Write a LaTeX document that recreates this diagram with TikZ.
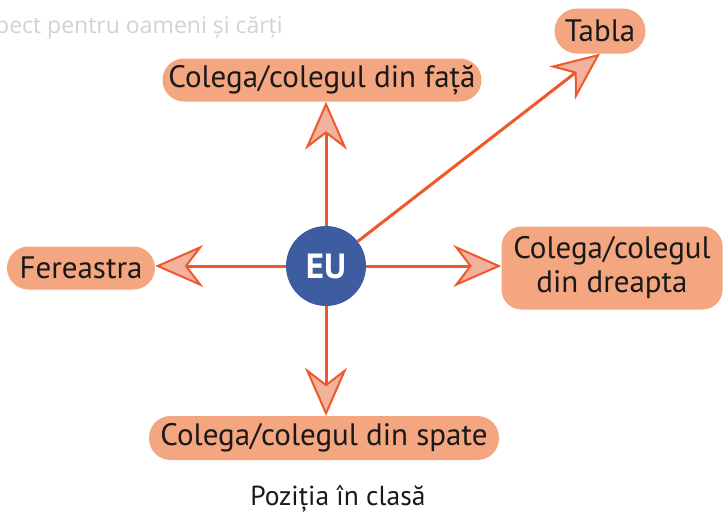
\documentclass[tikz,border=0pt]{standalone}
\usepackage{fontspec}
\setmainfont{PT Sans}
\newfontfamily\fadefont{Open Sans}
\usetikzlibrary{arrows.meta}
\definecolor{lineor}{RGB}{238,88,42}
\definecolor{arrfill}{RGB}{243,178,158}
\definecolor{boxfill}{RGB}{243,166,128}
\definecolor{eublue}{RGB}{62,92,160}
\definecolor{fadegray}{RGB}{210,210,210}
\begin{document}
\begin{tikzpicture}[x=1pt,y=-1pt,
 pill/.style={fill=boxfill, rounded corners=21.5pt, minimum height=43pt, inner sep=0pt,
   font=\fontsize{31}{34}\selectfont, text=black!90},
 conn/.style={draw=lineor, line width=3pt,
   -{Stealth[length=48pt,width=42pt,inset=16pt,fill=arrfill,line width=2pt]}}]
\useasboundingbox (0,0) rectangle (728,514);
\node[anchor=base west, inner sep=0pt, text=fadegray, font=\fadefont\fontsize{23}{26}\selectfont] (fade) at (-5,33) {pect pentru oameni și cărți};
\node[pill, minimum width=91pt, minimum height=45pt, rounded corners=22.5pt] (tabla) at (600,31) {Tabla};
\node[pill, minimum width=319pt] (fata) at (322,80) {Colega/colegul din față};
\node[pill, minimum width=148pt] (fer) at (81,268) {Fereastra};
\node[pill, minimum width=221pt, minimum height=83pt, rounded corners=20pt, align=center] (dreapta) at (612,268) {Colega/colegul\\din dreapta};
\node[pill, minimum width=350pt, minimum height=44pt] (spate) at (324,438) {Colega/colegul din spate};
\node[circle, fill=eublue, minimum size=80pt, inner sep=0pt, text=white, font=\fontsize{35}{35}\selectfont\bfseries] (eu) at (326,266) {EU};
\node[anchor=base, inner sep=0pt, font=\fontsize{27.5}{30}\selectfont, text=black!90] (caption) at (338,505) {Poziția în clasă};
\draw[conn] (eu) -- (fata.south -| eu);
\draw[conn] (eu) -- (spate.north -| eu);
\draw[conn] (eu) -- (fer.east |- eu);
\draw[conn] (eu) -- (dreapta.west |- eu);
\draw[conn] (eu) -- (tabla.south);
\end{tikzpicture}
\end{document}
